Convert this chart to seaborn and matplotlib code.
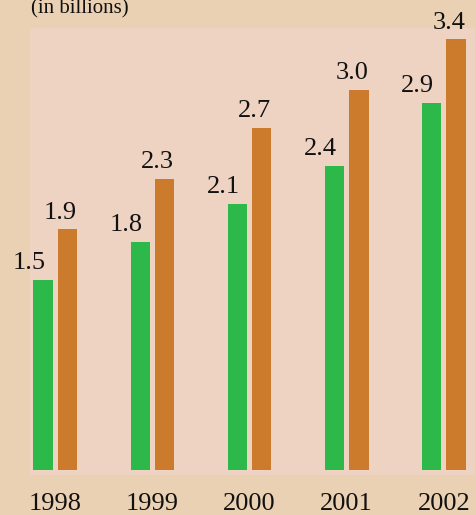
import matplotlib
matplotlib.use("Agg")
import matplotlib.pyplot as plt
import pandas as pd
import seaborn as sns

years = ["1998", "1999", "2000", "2001", "2002"]
series_a = [1.5, 1.8, 2.1, 2.4, 2.9]
series_b = [1.9, 2.3, 2.7, 3.0, 3.4]
bar_colors = ["#2db84a", "#cc7a2c"]

df = pd.DataFrame({
    "year": years * 2,
    "value": series_a + series_b,
    "series": ["a"] * len(years) + ["b"] * len(years),
})

sns.set_style("white")
plt.rcParams["font.family"] = ["Liberation Serif", "DejaVu Serif"]

fig = plt.figure(figsize=(4.77, 5.15), dpi=100, facecolor="#ebd1b3")
ax = fig.add_axes([30 / 477, 40 / 515, 445 / 477, 447 / 515])
ax.set_facecolor("#eed3c3")

sns.barplot(data=df, x="year", y="value", hue="series", palette=bar_colors,
            width=0.5, gap=0.2, saturation=1, linewidth=0, edgecolor="none",
            legend=False, ax=ax)

# value labels sit a bit left of each bar
offsets = [-10, -5]
for cont, dx in zip(ax.containers, offsets):
    for bar in cont:
        h = bar.get_height()
        ax.annotate(f"{h:.1f}", (bar.get_x() + bar.get_width() / 2, h),
                    xytext=(dx, 4), textcoords="offset points",
                    ha="center", va="bottom", fontsize=19, color="#111111")

ax.set_xlim(-0.26, 4.32)
ax.set_ylim(-0.04, 3.49)
ax.set_xlabel("")
ax.set_ylabel("")
ax.set_yticks([])
ax.tick_params(axis="x", length=0, pad=13, labelsize=19, labelcolor="#111111")
for s in ax.spines.values():
    s.set_visible(False)

fig.text(31 / 477, 1 - 13 / 515, "(in billions)", fontsize=15,
         va="baseline", ha="left", color="#111111")

fig.savefig("out.png", dpi=100, facecolor=fig.get_facecolor())
